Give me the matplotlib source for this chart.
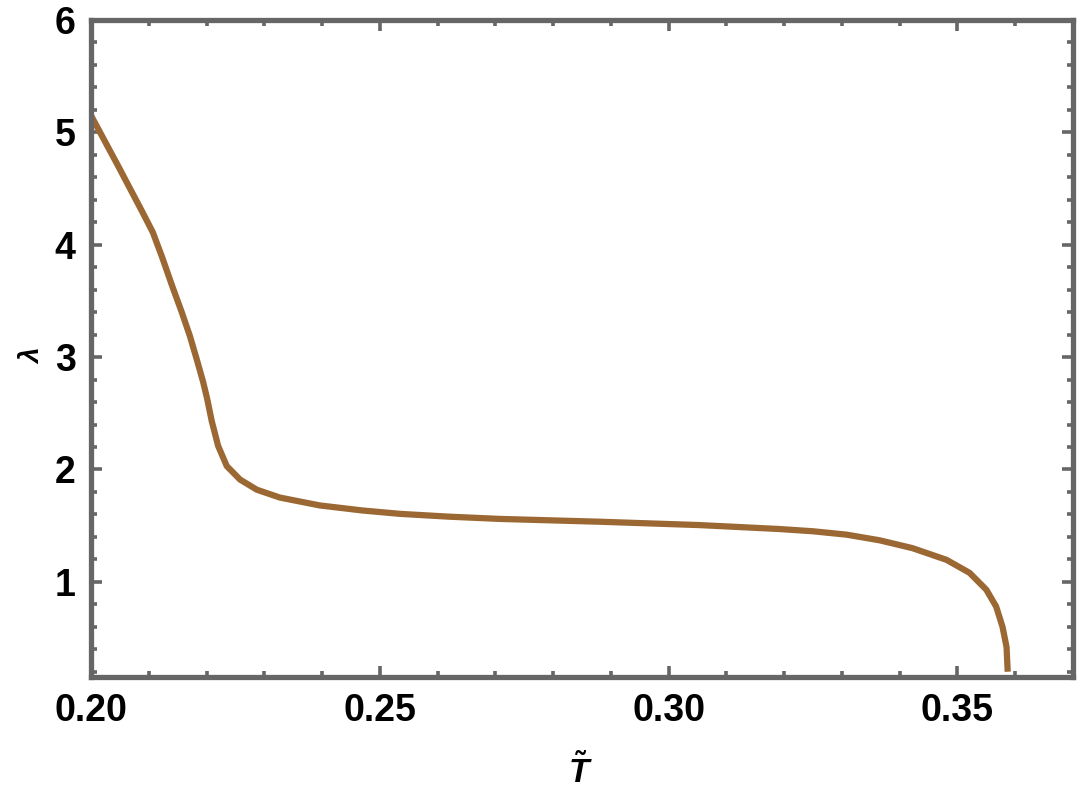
import matplotlib
matplotlib.use("Agg")
import matplotlib.pyplot as plt
import numpy as np
from matplotlib.ticker import MultipleLocator, FormatStrFormatter

# curve
T = [0.2000, 0.2047, 0.2088, 0.2107, 0.2123, 0.2140, 0.2157, 0.2171, 0.2183,
     0.2194, 0.2201, 0.2209, 0.2220, 0.2235, 0.2258, 0.2287, 0.2327, 0.2396,
     0.2470, 0.2535, 0.2620, 0.2708, 0.2881, 0.3054, 0.3192, 0.3250, 0.3308,
     0.3365, 0.3422, 0.3481, 0.3521, 0.3550, 0.3567, 0.3578, 0.3585, 0.3587]
lam = [5.15, 4.70, 4.30, 4.11, 3.89, 3.64, 3.40, 3.19, 2.98,
       2.78, 2.63, 2.43, 2.21, 2.03, 1.91, 1.82, 1.75, 1.68,
       1.635, 1.605, 1.58, 1.56, 1.535, 1.505, 1.47, 1.45, 1.42,
       1.37, 1.30, 1.196, 1.08, 0.93, 0.78, 0.60, 0.42, 0.20]

grey = '#666666'
plt.rcParams['font.family'] = ['Liberation Sans', 'DejaVu Sans']
plt.rcParams['mathtext.fontset'] = 'custom'
plt.rcParams['mathtext.it'] = 'Liberation Sans:bold:italic'

fig = plt.figure(figsize=(10.8, 8), dpi=100)
ax = fig.add_axes([0.0843, 0.154, 0.9092, 0.821])
ax.plot(T, lam, color='#9B6834', lw=4.5, solid_capstyle='butt',
        solid_joinstyle='round')

ax.set_xlim(0.2, 0.37)
ax.set_ylim(0.155, 6)
ax.xaxis.set_major_locator(MultipleLocator(0.05))
ax.xaxis.set_minor_locator(MultipleLocator(0.01))
ax.yaxis.set_major_locator(MultipleLocator(1))
ax.yaxis.set_minor_locator(MultipleLocator(0.2))
ax.xaxis.set_major_formatter(FormatStrFormatter('%.2f'))

for s in ax.spines.values():
    s.set_color(grey)
    s.set_linewidth(3.8)
ax.tick_params(which='both', direction='in', top=True, right=True,
               color=grey, width=2.6)
ax.tick_params(which='major', length=8, labelsize=27)
ax.tick_params(which='minor', length=4.5)
ax.tick_params(axis='x', pad=12)
ax.tick_params(axis='y', pad=11)
for lbl in ax.get_xticklabels() + ax.get_yticklabels():
    lbl.set_fontweight('bold')

fig.text(0.537, 0.035, r'$\tilde{T}$', fontsize=24, ha='center', va='center')
fig.text(0.030, 0.555, r'$\lambda$', fontsize=20, rotation=90,
         ha='center', va='center', fontweight='bold', fontstyle='italic')

fig.savefig('out.png', dpi=100)
